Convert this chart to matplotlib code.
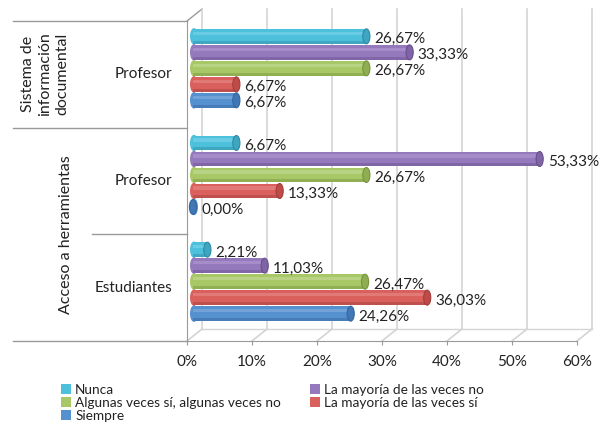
import numpy as np
import matplotlib
matplotlib.use("Agg")
import matplotlib.pyplot as plt
from matplotlib.patches import Ellipse, Patch
from matplotlib.lines import Line2D
from matplotlib.transforms import ScaledTranslation, IdentityTransform, blended_transform_factory

plt.rcParams['font.family'] = ['Lato', 'DejaVu Sans']

# datos
grupos = ["Profesor", "Profesor", "Estudiantes"]
series = ["Nunca", "La mayoría de las veces no", "Algunas veces sí, algunas veces no",
          "La mayoría de las veces sí", "Siempre"]
nunca = [26.67, 6.67, 2.21]
mayoria_no = [33.33, 53.33, 11.03]
algunas = [26.67, 26.67, 26.47]
mayoria_si = [6.67, 13.33, 36.03]
siempre = [6.67, 0.00, 24.26]
valores = [nunca, mayoria_no, algunas, mayoria_si, siempre]
colores = ["#4dc0dc", "#9579bd", "#a8c867", "#d9605c", "#5590cf"]
medios = ["#3ea6c0", "#7f64a6", "#8fae52", "#bf4b48", "#4177b5"]
oscuros = ["#2f8aa3", "#6a4f8d", "#77933f", "#a13e3b", "#35679f"]
claros = ["#8fdcee", "#bba7d8", "#cde2a6", "#ec9a97", "#95bce6"]
ticks = [0, 10, 20, 30, 40, 50, 60]
tick_labels = ["0%", "10%", "20%", "30%", "40%", "50%", "60%"]

W, H = 604, 433
fig = plt.figure(figsize=(W / 100, H / 100), dpi=100)
# plano frontal del "3D"
ax = fig.add_axes([187 / W, 1 - 341 / H, 390 / W, 320 / H])
ax.set_xlim(0, 60)
ax.set_ylim(2.5, -0.5)
ax.patch.set_visible(False)
for s in ["top", "right"]:
    ax.spines[s].set_visible(False)
for s in ["left", "bottom"]:
    ax.spines[s].set_color("#9a9a9a")
ax.set_yticks([])
ax.set_xticks(ticks)
ax.set_xticklabels(tick_labels, fontsize=11, color="#222222")
ax.tick_params(axis="x", length=3, color="#9a9a9a", pad=7)

# desplazamientos en pixeles (profundidad)
bar_tr = ax.transData + ScaledTranslation(6 / 100, 6 / 100, fig.dpi_scale_trans)
back_tr = ax.transData + ScaledTranslation(15 / 100, 12 / 100, fig.dpi_scale_trans)

# rejilla del fondo + diagonales del suelo
grid_c = "#d4d4d4"
for t in ticks:
    ax.plot([t, t], [-0.5, 2.5], transform=back_tr, color=grid_c, lw=1.2, clip_on=False, zorder=0)
    p0 = ax.transData.transform((t, 2.5))
    p1 = back_tr.transform((t, 2.5))
    fig.add_artist(Line2D([p0[0], p1[0]], [p0[1], p1[1]], transform=IdentityTransform(),
                          color=grid_c, lw=1.2, zorder=0))
# esquina superior izquierda
p0 = ax.transData.transform((0, -0.5))
p1 = back_tr.transform((0, -0.5))
fig.add_artist(Line2D([p0[0], p1[0]], [p0[1], p1[1]], transform=IdentityTransform(),
                      color="#9a9a9a", lw=1, zorder=0))
ax.plot([0, 60], [2.5, 2.5], transform=back_tr, color=grid_c, lw=1, clip_on=False, zorder=0)

# barras tipo cilindro
n = len(series)
step = 0.15
h = 0.14
y0 = np.arange(len(grupos))
for j in range(n):
    y = y0 + (j - 2) * step
    v = np.array(valores[j])
    ax.barh(y, v, height=h, color=colores[j], transform=bar_tr, clip_on=False, zorder=3)
    ax.barh(y - h * 0.2, v, height=h * 0.22, color=claros[j], transform=bar_tr,
            clip_on=False, zorder=4, alpha=0.45, linewidth=0)
    ax.barh(y + h * 0.4, v, height=h * 0.2, color=oscuros[j], transform=bar_tr,
            clip_on=False, zorder=4, alpha=0.45, linewidth=0)
    for yi, vi in zip(y, v):
        ax.add_patch(Ellipse((0.15, yi), 1.0, h, transform=bar_tr, color=colores[j],
                             clip_on=False, zorder=3))
        ax.add_patch(Ellipse((vi, yi), 1.1, h, transform=bar_tr, facecolor=medios[j],
                             edgecolor=oscuros[j], lw=0.8, clip_on=False, zorder=5))
        ax.annotate(f"{vi:.2f}%".replace(".", ","), xy=(vi, yi), xycoords=bar_tr,
                    xytext=(8, -3), textcoords="offset pixels", ha="left", va="center",
                    fontsize=11, color="#222222", zorder=6)

# etiquetas de categorias a la izquierda
ytr = ax.get_yaxis_transform()
sep_c = "#9a9a9a"
for yy, x0 in [(-0.5, 13), (0.5, 13), (1.5, 92), (2.5, 13)]:
    ax.plot([(x0 - 187) / 390, 0], [yy, yy], transform=ytr, color=sep_c, lw=1, clip_on=False)

ftr = blended_transform_factory(fig.transFigure, ax.transData)
for yi, g in zip(y0, grupos):
    fig.text(172 / W, yi, g, transform=ftr, ha="right", va="center", fontsize=11, color="#222222")
fig.text(45 / W, 0, "Sistema de\ninformación\ndocumental", transform=ftr, rotation=90,
         ha="center", va="center", fontsize=11.5, color="#222222", linespacing=1.3,
         multialignment="center")
fig.text(66 / W, 1.5, "Acceso a herramientas", transform=ftr, rotation=90,
         ha="center", va="center", fontsize=11.5, color="#222222")

# leyenda (dos bloques)
handles = [Patch(facecolor=c) for c in colores]
kw = dict(frameon=False, fontsize=9.8, handlelength=0.75, handleheight=0.75,
          handletextpad=0.3, labelspacing=0.08, borderpad=0, loc="upper left")
fig.legend([handles[0], handles[2], handles[4]], [series[0], series[2], series[4]],
           bbox_to_anchor=(54 / W, 1 - 377 / H), labelcolor="#222222", **kw)
fig.legend([handles[1], handles[3]], [series[1], series[3]],
           bbox_to_anchor=(303 / W, 1 - 377 / H), labelcolor="#222222", **kw)

fig.savefig("out.png", dpi=100)
